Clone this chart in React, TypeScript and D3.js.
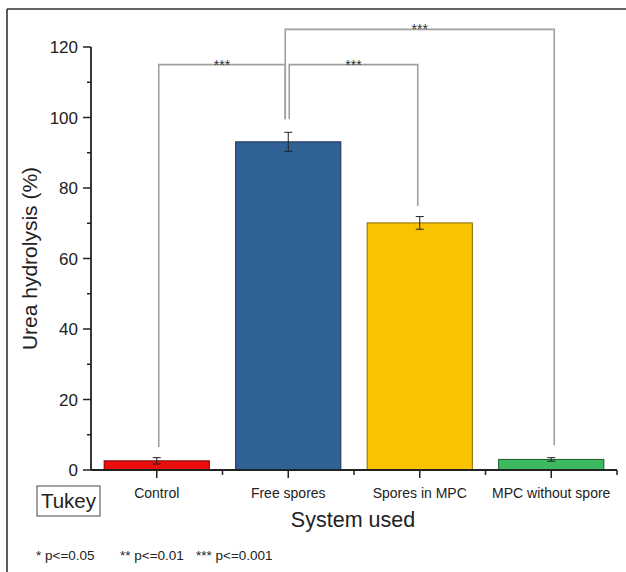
import React from "react";
import * as d3 from "d3";

const categories = ["Control", "Free spores", "Spores in MPC", "MPC without spore"];
const values = [2.6, 93.1, 70.1, 3.0];
const errors = [0.9, 2.7, 1.8, 0.5];
const colors = ["#ec0d0d", "#2f6194", "#f9c300", "#3dba60"];
const strokes = ["#7a0000", "#1b3350", "#8a6a00", "#1d5e30"];
const yTicks = [0, 20, 40, 60, 80, 100, 120];
const yMinorTicks = [10, 30, 50, 70, 90, 110];
// comparisons: from category, to category, bracket level, leg bottom (from), leg bottom (to), label
const cmpFrom = ["Control", "Free spores", "Free spores"];
const cmpTo = ["Free spores", "Spores in MPC", "MPC without spore"];
const cmpLevel = [115, 115, 125];
const cmpLegFrom = [6.5, 99.5, 99.5];
const cmpLegTo = [99.5, 74.9, 7];
const cmpLabel = ["***", "***", "***"];
const legendItems = ["* p<=0.05", "** p<=0.01", "*** p<=0.001"];

const W = 626;
const H = 572;
const FONT = "'Liberation Sans', Arial, Helvetica, sans-serif";

export default function App() {
  const x = d3.scaleBand<string>().domain(categories).range([91, 617]).paddingInner(0).paddingOuter(0);
  const y = d3.scaleLinear().domain([0, 120]).range([470, 47]);
  const bw = x.bandwidth();
  const barW = bw * 0.8;
  const cx = (c: string) => (x(c) as number) + bw / 2;

  // small horizontal offsets so adjoining brackets sharing a category don't overlap
  const legShift = (i: number, side: "from" | "to") => {
    if (i === 0 && side === "to") return -3;
    if (i === 1 && side === "from") return 1;
    if (i === 1 && side === "to") return -2;
    if (i === 2 && side === "from") return -3;
    if (i === 2 && side === "to") return 3;
    return 2;
  };

  const boundaries = categories.map((c) => (x(c) as number) + bw);

  return (
    <svg
      width={W}
      height={H}
      style={{ position: "absolute", left: 0, top: 0, background: "#fff" }}
      fontFamily={FONT}
    >
      <rect x={0} y={0} width={W} height={H} fill="#fff" />
      {/* outer frame */}
      <line x1={7} y1={9} x2={W} y2={9} stroke="#333" strokeWidth={1.6} />
      <line x1={7} y1={9} x2={7} y2={H} stroke="#333" strokeWidth={1.6} />

      {/* brackets */}
      {cmpFrom.map((f, i) => {
        const x1 = cx(f) + legShift(i, "from");
        const x2 = cx(cmpTo[i]) + legShift(i, "to");
        const yl = y(cmpLevel[i]);
        return (
          <g key={"b" + i}>
            <path
              d={`M${x1},${y(cmpLegFrom[i])}V${yl}H${x2}V${y(cmpLegTo[i])}`}
              fill="none"
              stroke="#a0a0a0"
              strokeWidth={1.6}
            />
            <text
              x={(x1 + x2) / 2}
              y={yl + 5}
              textAnchor="middle"
              fontSize={14}
              fill="#333"
            >
              {cmpLabel[i]}
            </text>
          </g>
        );
      })}

      {/* bars */}
      {categories.map((c, i) => (
        <rect
          key={c}
          x={cx(c) - barW / 2}
          y={y(values[i])}
          width={barW}
          height={y(0) - y(values[i])}
          fill={colors[i]}
          stroke={strokes[i]}
          strokeWidth={1}
        />
      ))}

      {/* error bars */}
      {categories.map((c, i) => {
        const xc = cx(c);
        const t = y(values[i] + errors[i]);
        const b = y(values[i] - errors[i]);
        return (
          <g key={"e" + c} stroke="#222" strokeWidth={1}>
            <line x1={xc} x2={xc} y1={t} y2={b} />
            <line x1={xc - 4} x2={xc + 4} y1={t} y2={t} />
            <line x1={xc - 4} x2={xc + 4} y1={b} y2={b} />
          </g>
        );
      })}

      {/* y axis */}
      <line x1={91} x2={91} y1={y(120)} y2={y(0)} stroke="#222" strokeWidth={1.8} />
      {yTicks.map((t) => (
        <g key={"yt" + t}>
          <line x1={83} x2={91} y1={y(t)} y2={y(t)} stroke="#222" strokeWidth={1.5} />
          <text x={78} y={y(t) + 6} textAnchor="end" fontSize={17} fill="#222">
            {t}
          </text>
        </g>
      ))}
      {yMinorTicks.map((t) => (
        <line key={"ym" + t} x1={87} x2={91} y1={y(t)} y2={y(t)} stroke="#222" strokeWidth={1.5} />
      ))}

      {/* x axis */}
      <line x1={91} x2={617} y1={y(0)} y2={y(0)} stroke="#222" strokeWidth={1.8} />
      {categories.map((c) => (
        <g key={"xt" + c}>
          <line x1={cx(c)} x2={cx(c)} y1={y(0)} y2={y(0) + 8} stroke="#222" strokeWidth={1.5} />
          <text x={cx(c)} y={498} textAnchor="middle" fontSize={14} fill="#222">
            {c}
          </text>
        </g>
      ))}
      {boundaries.map((b, i) => (
        <line key={"xm" + i} x1={b} x2={b} y1={y(0)} y2={y(0) + 5} stroke="#222" strokeWidth={1.5} />
      ))}

      {/* axis titles */}
      <text x={353} y={527} textAnchor="middle" fontSize={21.5} fill="#222">
        System used
      </text>
      <text
        transform={`translate(37,${(y(0) + y(120)) / 2}) rotate(-90)`}
        textAnchor="middle"
        fontSize={21}
        fill="#222"
      >
        Urea hydrolysis (%)
      </text>

      {/* Tukey box */}
      <rect x={37} y={486} width={63} height={30} fill="#fff" stroke="#444" strokeWidth={1} />
      <text x={68.5} y={508} textAnchor="middle" fontSize={20.5} fill="#222">
        Tukey
      </text>

      {/* significance legend */}
      {legendItems.map((s, i) => (
        <text key={s} x={[36, 120, 196][i]} y={560} fontSize={13.5} fill="#222">
          {s}
        </text>
      ))}
    </svg>
  );
}
